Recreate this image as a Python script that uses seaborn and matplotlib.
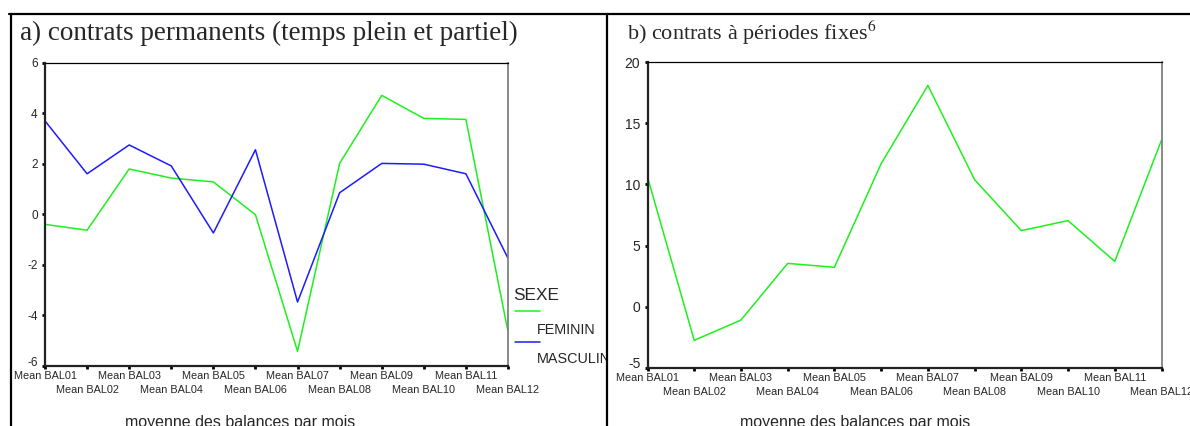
import matplotlib
matplotlib.use("Agg")
import matplotlib.pyplot as plt
from matplotlib.lines import Line2D
from matplotlib.transforms import Bbox, TransformedBbox, ScaledTranslation
import pandas as pd
import seaborn as sns

# Monthly mean balances
months = ["Mean BAL01", "Mean BAL02", "Mean BAL03", "Mean BAL04", "Mean BAL05", "Mean BAL06",
          "Mean BAL07", "Mean BAL08", "Mean BAL09", "Mean BAL10", "Mean BAL11", "Mean BAL12"]
perm_feminin = [-0.40, -0.63, 1.79, 1.43, 1.28, -0.02, -5.42, 2.01, 4.70, 3.79, 3.75, -4.64]
perm_masculin = [3.69, 1.60, 2.74, 1.91, -0.74, 2.55, -3.47, 0.85, 2.01, 1.98, 1.60, -1.74]
fixed_feminin = [10.60, -2.76, -1.10, 3.54, 3.22, 11.70, 18.11, 10.39, 6.22, 7.04, 3.70, 13.63]
sexe_levels = ["FEMININ", "MASCULIN"]
yticks_a = [-6, -4, -2, 0, 2, 4, 6]
yticks_b = [-5, 0, 5, 10, 15, 20]

title_a = "a) contrats permanents (temps plein et partiel)"
title_b = "b) contrats à périodes fixes$^{6}$"
xlabel = "moyenne des balances par mois"

GREEN = "#1ef01e"
BLUE = "#1c1cff"
palette = dict(zip(sexe_levels, [GREEN, BLUE]))

sns.set_style("white")
plt.rcParams["font.family"] = ["Liberation Sans", "DejaVu Sans"]
plt.rcParams["mathtext.fontset"] = "stix"

W, H = 1190, 426
fig = plt.figure(figsize=(W / 100, H / 100), dpi=100)


def fx(px):
    return px / W


def fy(py):
    return 1 - py / H


df_a = pd.DataFrame({
    "mois": months * 2,
    "balance": perm_feminin + perm_masculin,
    "SEXE": [sexe_levels[0]] * 12 + [sexe_levels[1]] * 12,
})
df_b = pd.DataFrame({"mois": months, "balance": fixed_feminin, "SEXE": sexe_levels[0]})

ax_a = fig.add_axes([fx(45), fy(366), fx(508) - fx(45), fy(62.5) - fy(366)])
ax_b = fig.add_axes([fx(647.5), fy(367.7), fx(1161.5) - fx(647.5), fy(62.3) - fy(367.7)])

sns.lineplot(data=df_a, x="mois", y="balance", hue="SEXE", palette=palette,
             ax=ax_a, legend=False, linewidth=1.1, sort=False)
sns.lineplot(data=df_b, x="mois", y="balance", hue="SEXE", palette=palette,
             ax=ax_b, legend=False, linewidth=1.1, sort=False)

lift = ScaledTranslation(0, 5 / 100, fig.dpi_scale_trans)

for ax, yt, ysize in ((ax_a, yticks_a, 8.5), (ax_b, yticks_b, 10)):
    ax.set_xlim(0, 11)
    ax.set_ylim(yt[0], yt[-1])
    ax.set_yticks(yt)
    ax.set_yticklabels([str(v) for v in yt], fontsize=ysize)
    # odd months on the first row, even months on a second, lower row
    ax.set_xticks(range(0, 12, 2))
    ax.set_xticklabels(months[0::2], fontsize=7.8)
    ax.set_xticks(range(1, 12, 2), minor=True)
    ax.set_xticklabels(months[1::2], minor=True, fontsize=7.8)
    ax.set_xlabel("")
    ax.set_ylabel("")
    ax.tick_params(axis="both", which="both", direction="out", length=2.2,
                   width=2.0, color="black", left=True, bottom=True)
    ax.tick_params(axis="y", pad=3)
    ax.tick_params(axis="x", which="major", pad=1.5)
    ax.tick_params(axis="x", which="minor", pad=11.5)
    # lowest value label sits a little above its tick, clear of the month labels
    low = ax.yaxis.get_major_ticks()[0].label1
    low.set_transform(low.get_transform() + lift)
    for side in ("left", "bottom"):
        ax.spines[side].set_color("#222222")
        ax.spines[side].set_linewidth(1.6)
    ax.spines["top"].set_color("black")
    ax.spines["top"].set_linewidth(0.9)
    ax.spines["right"].set_color("#808080")
    ax.spines["right"].set_linewidth(1.3)
    ax.set_facecolor("white")

# Axis captions
fig.text(fx(240), fy(422.5), xlabel, fontsize=11.5, ha="center", va="center")
fig.text(fx(855), fy(422.5), xlabel, fontsize=11.5, ha="center", va="center")

# Panel titles
serif = ["Liberation Serif", "DejaVu Serif"]
fig.text(fx(20), fy(33), title_a, family=serif, fontsize=19.5, ha="left", va="center")
fig.text(fx(627), fy(33), title_b, family=serif, fontsize=16, ha="left", va="center")

# Table frame around the two panels
frame_kw = dict(color="black", linewidth=1.6, transform=fig.transFigure)
fig.add_artist(Line2D([fx(9), 1], [fy(14), fy(14)], **frame_kw))
fig.add_artist(Line2D([fx(10.5), fx(10.5)], [fy(14), 0], **frame_kw))
fig.add_artist(Line2D([fx(606.5), fx(606.5)], [fy(14), 0], **frame_kw))

# Legend of panel a, cut at the table border
clip = TransformedBbox(Bbox([[0, 0], [fx(605.5), 1]]), fig.transFigure)
fig.text(fx(512.7), fy(295.7), "SEXE", fontsize=12.4, ha="left", va="center")
fig.add_artist(Line2D([fx(515), fx(540)], [fy(311), fy(311)], color=GREEN,
                      linewidth=1.1, transform=fig.transFigure))
fig.text(fx(536.7), fy(330), sexe_levels[0], fontsize=10.4, ha="left", va="center")
fig.add_artist(Line2D([fx(515), fx(540)], [fy(342.3), fy(342.3)], color=BLUE,
                      linewidth=1.1, transform=fig.transFigure))
t = fig.text(fx(536.7), fy(359.3), sexe_levels[1], fontsize=10.4, ha="left", va="center")
t.set_clip_box(clip)
t.set_clip_on(True)

fig.savefig("out.png", dpi=100, facecolor="white")
